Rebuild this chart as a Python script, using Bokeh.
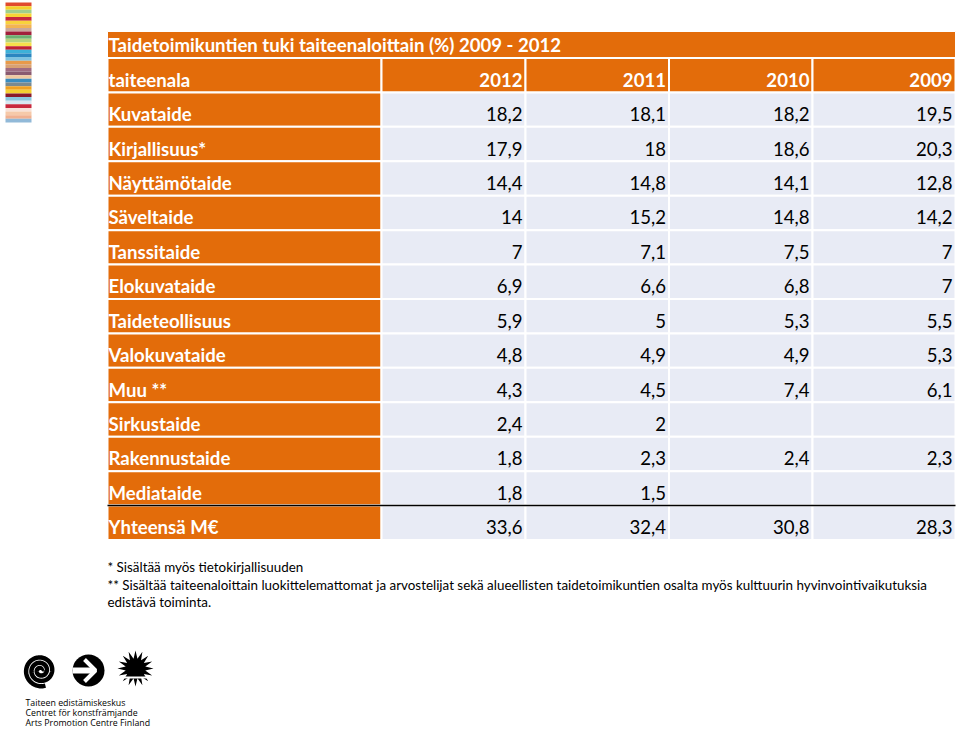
from bokeh.plotting import figure
from bokeh.models import Range1d, ColumnDataSource
from bokeh.core.properties import value
from bokeh.embed import file_html
from bokeh.resources import INLINE
import numpy as np

# ---------------- data ----------------
title = "Taidetoimikuntien tuki taiteenaloittain (%) 2009 - 2012"
header_label = "taiteenala"
years = ["2012", "2011", "2010", "2009"]
categories = ["Kuvataide", "Kirjallisuus*", "Näyttämötaide", "Säveltaide", "Tanssitaide",
              "Elokuvataide", "Taideteollisuus", "Valokuvataide", "Muu **", "Sirkustaide",
              "Rakennustaide", "Mediataide", "Yhteensä M€"]
v2012 = [18.2, 17.9, 14.4, 14, 7, 6.9, 5.9, 4.8, 4.3, 2.4, 1.8, 1.8, 33.6]
v2011 = [18.1, 18, 14.8, 15.2, 7.1, 6.6, 5, 4.9, 4.5, 2, 2.3, 1.5, 32.4]
v2010 = [18.2, 18.6, 14.1, 14.8, 7.5, 6.8, 5.3, 4.9, 7.4, None, 2.4, None, 30.8]
v2009 = [19.5, 20.3, 12.8, 14.2, 7, 7, 5.5, 5.3, 6.1, None, 2.3, None, 28.3]
footnotes = ["* Sisältää myös tietokirjallisuuden",
             "** Sisältää taiteenaloittain luokittelemattomat ja arvostelijat sekä alueellisten taidetoimikuntien osalta myös kulttuurin hyvinvointivaikutuksia",
             "edistävä toiminta."]
logo_lines = ["Taiteen edistämiskeskus", "Centret för konstfrämjande", "Arts Promotion Centre Finland"]
stripe_colors = ["#E04A2E", "#F4D12C", "#9FCF8C", "#F7D535", "#C62A3E", "#F8D23C", "#F2B452",
                 "#C9A89B", "#A2213B", "#6CB170", "#B5D37F", "#F6DF4B", "#C12232", "#3DB1D8",
                 "#2B86C0", "#7FC3E0", "#E89A4A", "#D9A172", "#A06B81", "#8A5A70", "#F0C9A1",
                 "#3A8CC0", "#7A8A91", "#F0A122", "#F5D132", "#8A1B2B", "#8BC8E0", "#D8E8F0",
                 "#C8293D", "#F8E1D8", "#F6C9A9", "#F0B191", "#91B9D8"]

ORANGE = "#E36C0A"
CELL = "#E8EBF5"
FONT = "Lato"

def fmt(v):
    return "" if v is None else f"{v:g}".replace(".", ",")

# ---------------- figure in page-pixel coordinates ----------------
p = figure(width=959, height=729, x_range=Range1d(0, 959), y_range=Range1d(729, 0),
           output_backend="svg", toolbar_location=None, min_border=0,
           x_axis_location=None, y_axis_location=None)
p.grid.visible = False
p.outline_line_color = None
p.background_fill_color = "white"
p.border_fill_color = "white"

# ---------------- table layout ----------------
x_edges = [107, 381, 525, 668.5, 812, 955]
row_h = 34.43
y0 = 57.5
n_rows = len(categories) + 1  # header + data rows
text_drop = 4.5  # cell text sits slightly below the row centre

# title band
p.quad(left=[107], right=[955], top=[31], bottom=[y0], fill_color=ORANGE,
       line_color="white", line_width=1)

L, R, T, B, C = [], [], [], [], []
for i in range(n_rows):
    top = y0 + i * row_h
    bot = top + row_h
    for j in range(5):
        L.append(x_edges[j]); R.append(x_edges[j + 1]); T.append(top); B.append(bot)
        C.append(ORANGE if (i == 0 or j == 0) else CELL)
p.quad(left=L, right=R, top=T, bottom=B, fill_color=C, line_color="white", line_width=2)

# total separator line
sep_y = y0 + (n_rows - 1) * row_h
p.segment(x0=[107], y0=[sep_y], x1=[955], y1=[sep_y], line_color="black", line_width=1.5)

# title text
p.text(x=[108], y=[44], text=[title], text_color="white", text_font=value(FONT),
       text_font_style="bold", text_font_size="18.6px", text_baseline="middle", text_align="left")

# row labels
centers = [y0 + (i + 0.5) * row_h + text_drop for i in range(n_rows)]
p.text(x=[108] * n_rows, y=centers, text=[header_label] + categories, text_color="white",
       text_font=value(FONT), text_font_style="bold", text_font_size="18.6px",
       text_baseline="middle", text_align="left")

# header years
p.text(x=[x_edges[j + 2] - 3 for j in range(4)], y=[centers[0]] * 4, text=years,
       text_color="white", text_font=value(FONT), text_font_style="bold",
       text_font_size="18.6px", text_baseline="middle", text_align="right")

# values
for j, series in enumerate([v2012, v2011, v2010, v2009]):
    src = ColumnDataSource(dict(x=[x_edges[j + 2] - 3] * len(series), y=centers[1:],
                                t=[fmt(v) for v in series]))
    p.text(x="x", y="y", text="t", source=src, text_color="black", text_font=value(FONT),
           text_font_size="18.6px", text_baseline="middle", text_align="right")

# footnotes
p.text(x=[107] * 3, y=[566, 584, 601], text=footnotes, text_color="black",
       text_font=value(FONT), text_font_size="13.4px", text_baseline="middle", text_align="left")

# ---------------- decorative stripe (top-left) ----------------
ns = len(stripe_colors)
sh = (122 - 2) / ns
p.quad(left=[5] * ns, right=[31] * ns, top=[2 + k * sh for k in range(ns)],
       bottom=[2 + (k + 1) * sh for k in range(ns)], fill_color=stripe_colors, line_color=None)

# ---------------- logo ----------------
th = np.linspace(0, 5.6 * np.pi, 300)
rr = 1.0 + th * 0.85
p.line(x=40 + rr * np.cos(th), y=670 - rr * np.sin(th), line_color="black", line_width=4.5)

p.scatter(x=[88], y=[670], size=32, marker="circle", fill_color="black", line_color=None)
p.line(x=[72, 93], y=[670, 670], line_color="white", line_width=6)
p.line(x=[84, 95, 84], y=[659, 670, 681], line_color="white", line_width=4)

ang = np.linspace(0, 2 * np.pi, 33)[:-1]
rad = np.where(np.arange(32) % 2 == 0, 18, 10)
p.patch(x=135 + rad * np.cos(ang), y=668 - rad * np.sin(ang), fill_color="black", line_color=None)
p.segment(x0=[115], y0=[677], x1=[155], y1=[677], line_color="white", line_width=2)

p.text(x=[25] * 3, y=[702.5, 712.5, 722.5], text=logo_lines, text_color="black",
       text_font=value("Open Sans"), text_font_size="8.8px", text_baseline="middle",
       text_align="left")

open("out.html", "w").write(file_html(p, INLINE))
